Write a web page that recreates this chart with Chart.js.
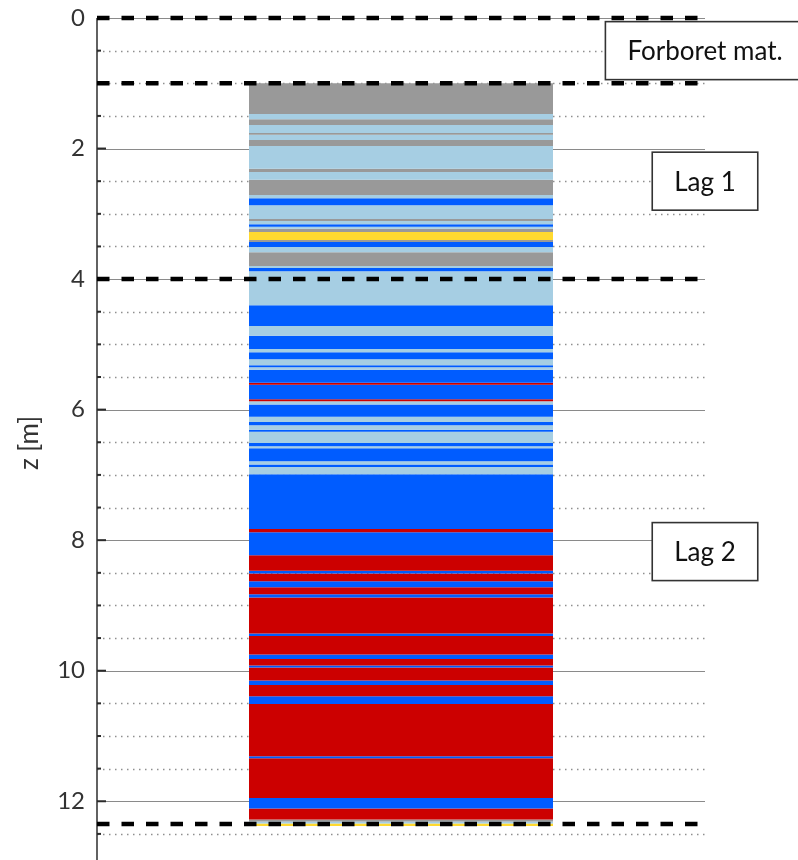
<!DOCTYPE html>
<html>
<head>
<meta charset="utf-8">
<title>Lagdeling</title>
<script src="https://cdn.jsdelivr.net/npm/chart.js@4.4.1/dist/chart.umd.min.js"></script>
<style>
  html, body { margin: 0; padding: 0; background: #fff; overflow: hidden; }
  canvas { display: block; }
</style>
</head>
<body>
<canvas id="soilChart" width="798" height="860"></canvas>
<script>
// Layer boundaries (z in m) and soil code for each interval between them
const depths = [
  1.00, 1.47, 1.55, 1.64, 1.76, 1.79, 1.87, 1.96, 2.31, 2.36, 2.48, 2.71,
  2.76, 2.87, 3.08, 3.11, 3.16, 3.20, 3.23, 3.28, 3.40, 3.43, 3.51, 3.59,
  3.80, 3.83, 3.88, 4.40, 4.72, 4.87, 5.07, 5.12, 5.23, 5.32, 5.35, 5.39,
  5.59, 5.62, 5.84, 5.87, 5.92, 6.11, 6.19, 6.24, 6.31, 6.34, 6.51, 6.56,
  6.59, 6.79, 6.84, 6.88, 6.99, 7.83, 7.88, 8.23, 8.47, 8.51, 8.63, 8.72,
  8.83, 8.88, 9.43, 9.47, 9.75, 9.82, 9.92, 9.95, 10.15, 10.22, 10.39,
  10.51, 11.31, 11.34, 11.95, 12.11, 12.28, 12.31, 12.34, 12.38,
];
const soil = [
  "G", "L", "G", "L", "G", "L", "G", "L", "G", "L", "G",
  "L", "B", "L", "G", "L", "B", "L", "G", "Y", "G", "B", "L",
  "G", "L", "B", "L", "B", "L", "B", "L", "B", "L", "B", "L",
  "B", "R", "B", "R", "L", "B", "L", "B", "L", "B", "L", "B",
  "L", "B", "L", "B", "L", "B", "R", "B", "R", "B", "R", "B",
  "R", "B", "R", "B", "R", "B", "R", "B", "R", "B", "R",
  "B", "R", "B", "R", "B", "R", "G", "L", "Y",
];

// Layer interfaces and their names
const layerLines = [0, 1.0, 4.0, 12.35];
const layerNames = ["Forboret mat.", "Lag 1", "Lag 2"];

// Axis
const yTitle = "z [m]";
const yMin = 0;
const yMax = 12.9;
const yStep = 0.5;
const yLabelStep = 2;

const soilColors = {
  G: "#999999",
  L: "#a6cee3",
  B: "#005cff",
  R: "#cc0000",
  Y: "#ffd92f",
};

const FONT = "Lato, 'Open Sans', sans-serif";

// Grid, axis line and inside tick marks
const gridPlugin = {
  id: "soilGrid",
  beforeDatasetsDraw(chart) {
    const { ctx, chartArea, scales } = chart;
    const y = scales.y;
    ctx.save();
    y.ticks.forEach(({ value }) => {
      if (Math.abs(value / yStep - Math.round(value / yStep)) > 1e-6) return;
      const py = Math.round(y.getPixelForValue(value)) + 0.5;
      const major = Math.abs(value % yLabelStep) < 1e-6;
      ctx.beginPath();
      ctx.setLineDash(major ? [] : [1.5, 4.5]);
      ctx.strokeStyle = major ? "#8a8a8a" : "#8f8f8f";
      ctx.lineWidth = major ? 1.2 : 1.3;
      ctx.moveTo(chartArea.left, py);
      ctx.lineTo(chartArea.right, py);
      ctx.stroke();
    });
    ctx.restore();
  },
  afterDatasetsDraw(chart) {
    const { ctx, chartArea, scales } = chart;
    const y = scales.y;
    ctx.save();

    // y axis line
    ctx.strokeStyle = "#3a3a3a";
    ctx.lineWidth = 1.6;
    ctx.beginPath();
    ctx.moveTo(chartArea.left, chartArea.top);
    ctx.lineTo(chartArea.left, chartArea.bottom);
    ctx.stroke();

    // tick marks drawn on the inside
    y.ticks.forEach(({ value }) => {
      const py = y.getPixelForValue(value);
      const major = Math.abs(value % yLabelStep) < 1e-6;
      ctx.beginPath();
      ctx.lineWidth = 2;
      ctx.strokeStyle = "#2a2a2a";
      ctx.moveTo(chartArea.left, py);
      ctx.lineTo(chartArea.left + (major ? 9 : 4), py);
      ctx.stroke();
    });

    // dashed layer interfaces
    ctx.strokeStyle = "#000";
    ctx.lineWidth = 4.5;
    ctx.setLineDash([12.5, 12]);
    layerLines.forEach((v) => {
      const py = y.getPixelForValue(v);
      ctx.beginPath();
      ctx.moveTo(chartArea.left, py);
      ctx.lineTo(chartArea.right, py);
      ctx.stroke();
    });
    ctx.setLineDash([]);

    // layer name boxes
    ctx.font = `26px ${FONT}`;
    ctx.textAlign = "center";
    ctx.textBaseline = "middle";
    layerNames.forEach((name, i) => {
      const cy = y.getPixelForValue((layerLines[i] + layerLines[i + 1]) / 2);
      const cx = chartArea.right;
      const w = ctx.measureText(name).width + 44;
      const h = 58;
      ctx.fillStyle = "#fff";
      ctx.fillRect(cx - w / 2, cy - h / 2, w, h);
      ctx.strokeStyle = "#333";
      ctx.lineWidth = 1.6;
      ctx.strokeRect(cx - w / 2, cy - h / 2, w, h);
      ctx.fillStyle = "#111";
      ctx.fillText(name, cx, cy + 1);
    });

    // axis title
    ctx.translate(30, (chartArea.top + chartArea.bottom) / 2 + 4);
    ctx.rotate(-Math.PI / 2);
    ctx.font = `26px ${FONT}`;
    ctx.fillStyle = "#333";
    ctx.fillText(yTitle, 0, 0);
    ctx.restore();
  },
};

const datasets = soil.map((code, i) => ({
  label: code,
  data: [[depths[i], depths[i + 1]]],
  backgroundColor: soilColors[code],
  borderWidth: 0,
  grouped: false,
  barPercentage: 0.5,
  categoryPercentage: 1,
}));

new Chart(document.getElementById("soilChart"), {
  type: "bar",
  data: {
    labels: [""],
    datasets: datasets,
  },
  options: {
    responsive: false,
    animation: false,
    layout: {
      padding: { left: 0, right: 93, top: 18, bottom: 0 },
    },
    plugins: {
      legend: { display: false },
      tooltip: { enabled: false },
    },
    scales: {
      x: {
        display: false,
      },
      y: {
        reverse: true,
        min: yMin,
        max: yMax,
        grid: { display: false, drawTicks: false },
        border: { display: false },
        afterFit(scale) {
          scale.width = 97;
          scale.paddingTop = 0;
          scale.paddingBottom = 0;
        },
        ticks: {
          stepSize: yStep,
          includeBounds: false,
          autoSkip: false,
          padding: 12,
          color: "#333",
          font: { family: FONT, size: 24 },
          callback: (value) =>
            Math.abs(value % yLabelStep) < 1e-6 ? String(value) : "",
        },
      },
    },
  },
  plugins: [gridPlugin],
});
</script>
</body>
</html>
